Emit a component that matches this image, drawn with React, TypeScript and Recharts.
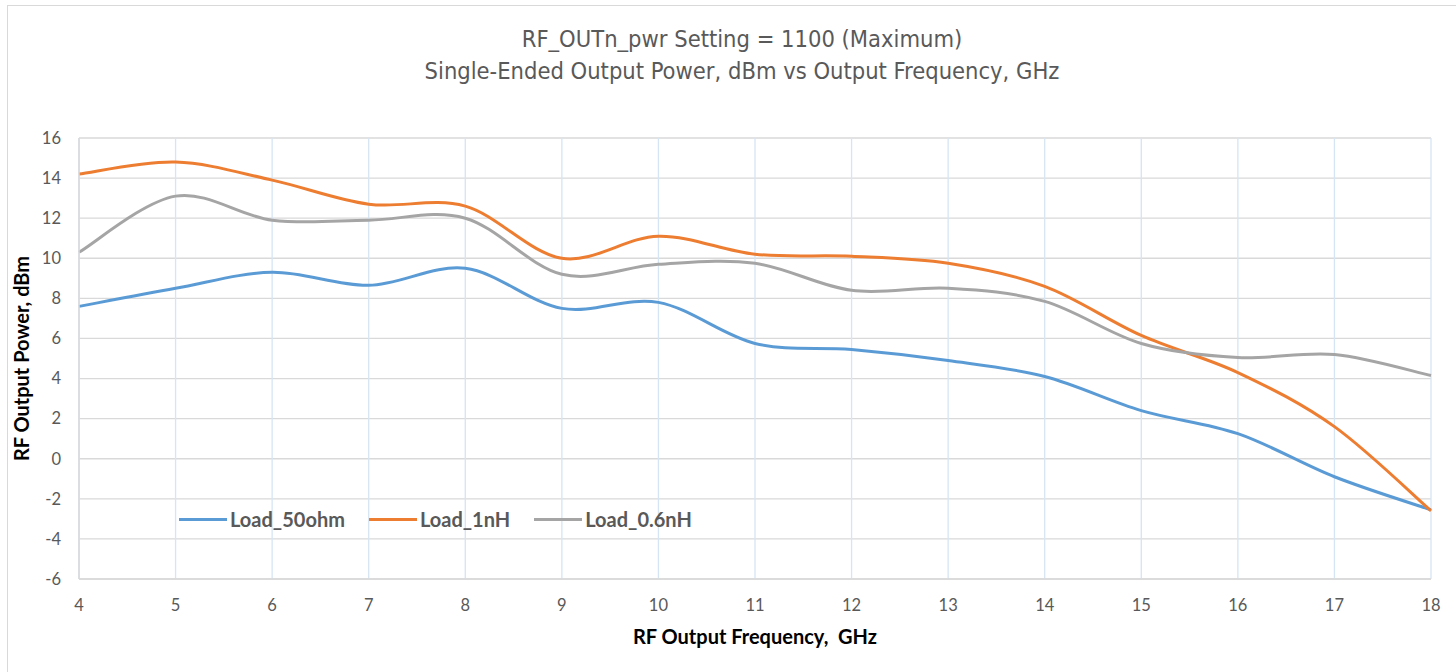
import {
  CartesianGrid,
  Legend,
  Line,
  LineChart,
  XAxis,
  YAxis,
} from "recharts";

const FREQ_GHZ = [4, 5, 6, 7, 8, 9, 10, 11, 12, 13, 14, 15, 16, 17, 18];
const LOAD_50OHM = [7.6, 8.5, 9.3, 8.65, 9.5, 7.5, 7.8, 5.75, 5.45, 4.9, 4.1, 2.4, 1.25, -0.9, -2.55];
const LOAD_1NH = [14.2, 14.8, 13.9, 12.7, 12.6, 10.0, 11.1, 10.2, 10.1, 9.75, 8.6, 6.15, 4.3, 1.6, -2.6];
const LOAD_06NH = [10.3, 13.1, 11.9, 11.9, 12.0, 9.2, 9.7, 9.75, 8.4, 8.5, 7.85, 5.75, 5.05, 5.2, 4.15];
const X_TICKS = [4, 5, 6, 7, 8, 9, 10, 11, 12, 13, 14, 15, 16, 17, 18];
const Y_TICKS = [-6, -4, -2, 0, 2, 4, 6, 8, 10, 12, 14, 16];

const SERIES = [
  { key: "Load_50ohm", color: "#5b9bd5" },
  { key: "Load_1nH", color: "#ed7d31" },
  { key: "Load_0.6nH", color: "#a5a5a5" },
];

const data = FREQ_GHZ.map((f, i) => ({
  freq: f,
  Load_50ohm: LOAD_50OHM[i],
  Load_1nH: LOAD_1NH[i],
  "Load_0.6nH": LOAD_06NH[i],
}));

// Excel-style smoothed line (Catmull-Rom through the points)
function excelSmooth(context: any) {
  let pts: number[][] = [];
  return {
    areaStart() {},
    areaEnd() {},
    lineStart() {
      pts = [];
    },
    point(x: number, y: number) {
      pts.push([+x, +y]);
    },
    lineEnd() {
      if (!pts.length) return;
      context.moveTo(pts[0][0], pts[0][1]);
      for (let i = 0; i < pts.length - 1; i++) {
        const p0 = pts[i - 1] || pts[i];
        const p1 = pts[i];
        const p2 = pts[i + 1];
        const p3 = pts[i + 2] || pts[i + 1];
        context.bezierCurveTo(
          p1[0] + (p2[0] - p0[0]) / 6,
          p1[1] + (p2[1] - p0[1]) / 6,
          p2[0] - (p3[0] - p1[0]) / 6,
          p2[1] - (p3[1] - p1[1]) / 6,
          p2[0],
          p2[1]
        );
      }
    },
  };
}

const FONT = "Lato, 'Open Sans', sans-serif";

function LegendContent() {
  return (
    <div style={{ display: "flex", alignItems: "center", fontFamily: FONT, whiteSpace: "nowrap" }}>
      {SERIES.map((s) => (
        <div key={s.key} style={{ display: "flex", alignItems: "center", marginRight: 24 }}>
          <span style={{ display: "inline-block", width: 48, height: 3, background: s.color, marginRight: 3 }} />
          <span style={{ fontSize: 20, fontWeight: 700, color: "#595959" }}>{s.key}</span>
        </div>
      ))}
    </div>
  );
}

export default function App() {
  return (
    <div style={{ position: "absolute", left: 0, top: 0, width: 1456, height: 672, overflow: "hidden", background: "#fff" }}>
      <div style={{ position: "absolute", left: 7, top: 5, width: 1500, height: 700, border: "1px solid #d9d9d9" }} />
      <div
        style={{
          position: "absolute",
          left: 0,
          top: 23,
          width: 1484,
          textAlign: "center",
          fontFamily: "'DejaVu Sans Condensed', sans-serif",
          fontSize: 23.5,
          lineHeight: "32px",
          color: "#595959",
        }}
      >
        <div>RF_OUTn_pwr Setting = 1100 (Maximum)</div>
        <div>Single-Ended Output Power, dBm vs Output Frequency, GHz</div>
      </div>
      <div style={{ position: "absolute", left: 0, top: 0 }}>
        <LineChart width={1456} height={672} data={data} margin={{ top: 138, right: 25, left: 9, bottom: 23 }}>
          <CartesianGrid horizontal={true} vertical={false} stroke="#d9d9d9" strokeWidth={1.3} />
          <CartesianGrid horizontal={false} vertical={true} stroke="#d6e5f4" strokeWidth={1.3} />
          <XAxis
            dataKey="freq"
            type="number"
            domain={[4, 18]}
            ticks={X_TICKS}
            tickLine={false}
            axisLine={{ stroke: "#d9d9d9", strokeWidth: 1.5 }}
            tickMargin={14}
            height={70}
            tick={{ fill: "#595959", fontSize: 16.5, fontFamily: FONT }}
            label={{
              value: "RF Output Frequency,\u00a0 GHz",
              position: "insideBottom",
              offset: 5,
              style: { fill: "#000", fontSize: 20, fontWeight: 700, fontFamily: FONT },
            }}
          />
          <YAxis
            type="number"
            domain={[-6, 16]}
            ticks={Y_TICKS}
            tickLine={false}
            axisLine={{ stroke: "#d9d9d9", strokeWidth: 1.5 }}
            tickMargin={12}
            width={70}
            tick={{ fill: "#595959", fontSize: 16.5, fontFamily: FONT }}
            label={{
              value: "RF Output Power, dBm",
              angle: -90,
              position: "insideLeft",
              offset: 13,
              style: { textAnchor: "middle", fill: "#000", fontSize: 20, fontWeight: 700, fontFamily: FONT },
            }}
          />
          <Legend
            content={<LegendContent />}
            layout="horizontal"
            align="center"
            verticalAlign="middle"
            wrapperStyle={{ position: "absolute", left: 179, top: 507, width: "auto" }}
          />
          {SERIES.map((s) => (
            <Line
              key={s.key}
              dataKey={s.key}
              type={excelSmooth as any}
              stroke={s.color}
              strokeWidth={3}
              dot={false}
              isAnimationActive={false}
            />
          ))}
        </LineChart>
      </div>
    </div>
  );
}
